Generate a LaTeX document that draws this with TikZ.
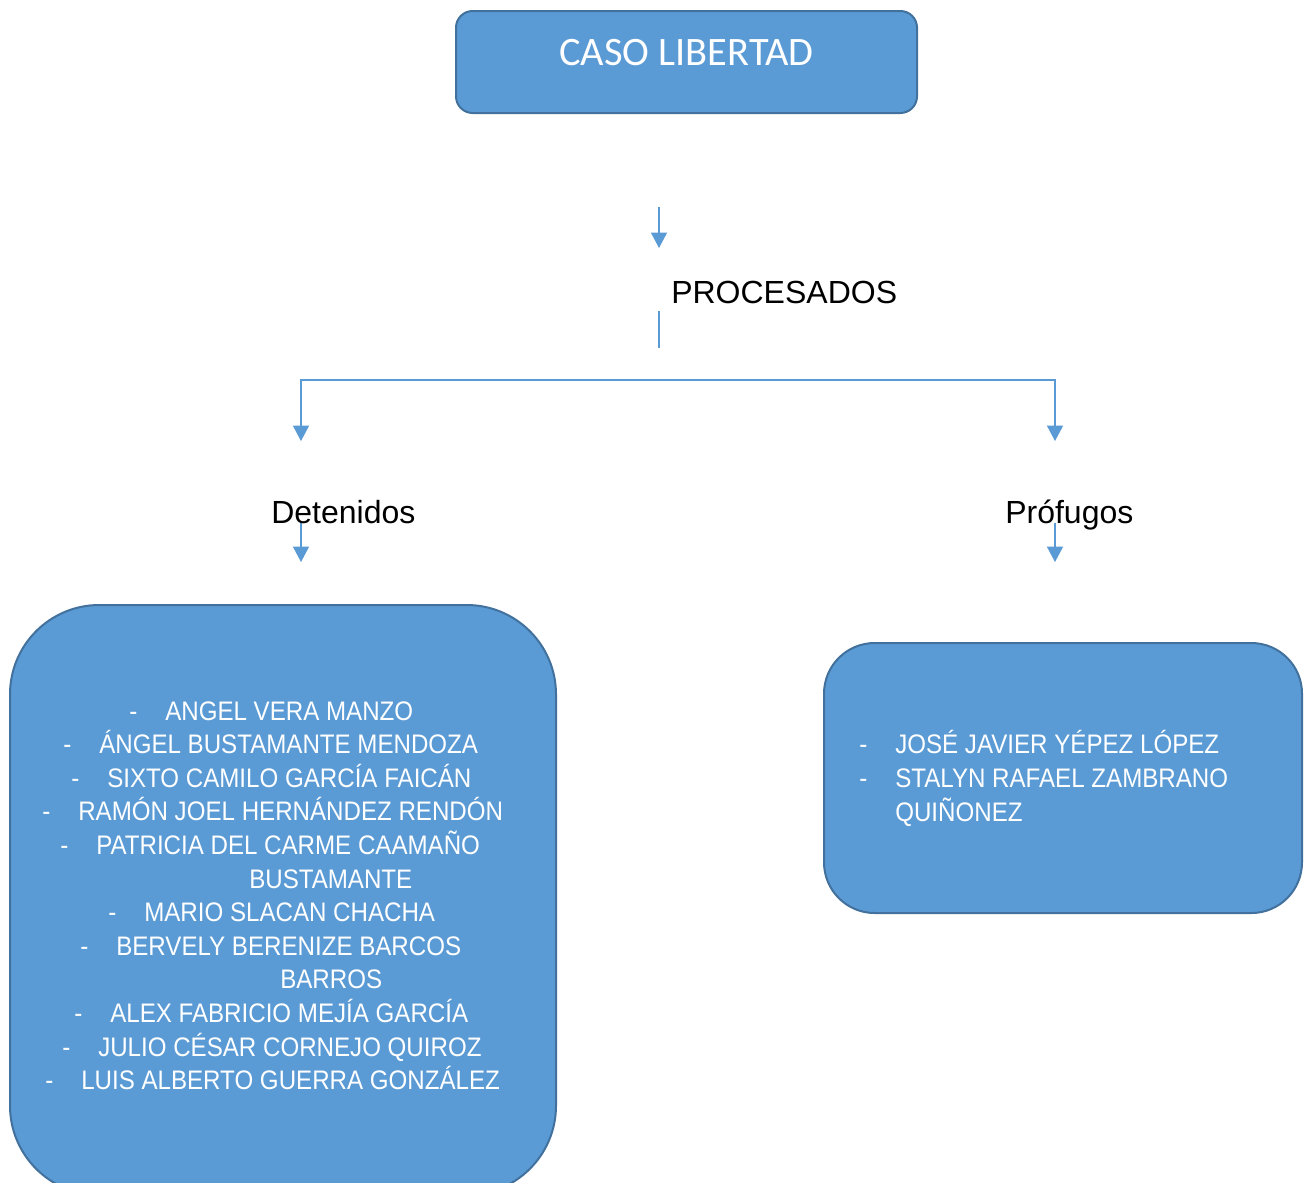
\documentclass[tikz,border=0pt]{standalone}
\usepackage{fontspec}
\setmainfont{Liberation Sans}
\newfontfamily\calfont{Carlito}
\newfontfamily\narrowfont[FakeStretch=0.9]{Liberation Sans}
\usetikzlibrary{arrows.meta}
\definecolor{boxfill}{HTML}{5B9BD5}
\definecolor{boxline}{HTML}{41719C}
\definecolor{connc}{HTML}{5B9BD5}
\begin{document}
\begin{tikzpicture}[x=0.75pt,y=-0.75pt,
  box/.style={fill=boxfill,draw=boxline,line width=1.5pt,inner sep=0pt},
  conn/.style={draw=connc,line width=0.9pt},
  tip/.tip={Triangle[width=12pt,length=11.5pt]},
  arr/.style={conn,-tip},
  lbl/.style={anchor=base west,inner sep=0pt,text=black,font=\fontsize{24}{28}\selectfont},
  item/.style={anchor=base west,inner sep=0pt,text=white,font=\narrowfont\fontsize{20.1}{24}\selectfont},
]
\useasboundingbox (0,0) rectangle (1308,1182);
\fill[white] (0,0) rectangle (1308,1182);

% boxes
\node[box,rounded corners=12.5pt,minimum width=345.75pt,minimum height=76.5pt] (top) at (686.5,62) {};
\node[anchor=base west,inner sep=0pt,text=white,font=\calfont\fontsize{30.3}{34}\selectfont] (toptext) at (559,65) {CASO LIBERTAD};
\node[box,rounded corners=67pt,minimum width=409.5pt,minimum height=442.5pt] (left) at (283,900) {};
\node[box,rounded corners=38pt,minimum width=358.5pt,minimum height=202.5pt] (right) at (1063,778) {};

% connectors
\coordinate (a1s) at (659,207);
\coordinate (a1e) at (659,248);
\draw[arr] (a1s) -- (a1e);
\coordinate (s1) at (659,311);
\coordinate (s2) at (659,348);
\draw[conn] (s1) -- (s2);
\coordinate (hl) at (301,380);
\coordinate (hr) at (1055,380);
\coordinate (dl) at (301,441);
\coordinate (dr) at (1055,441);
\draw[conn,tip-tip] (dl) -- (hl) -- (hr) -- (dr);
\coordinate (dls) at (301,523);
\coordinate (dle) at (301,562);
\coordinate (drs) at (1055,523);
\coordinate (dre) at (1055,562);
\draw[arr] (dls) -- (dle);
\draw[arr] (drs) -- (dre);

% labels
\node[lbl] (proc) at (671,303) {PROCESADOS};
\node[lbl] (det) at (271,523) {Detenidos};
\node[lbl] (prof) at (1005,523) {Prófugos};

% left list
\node[item] (l0d) at (129,720) {-};
\node[item] (l0) at (165,720) {ANGEL VERA MANZO};
\node[item] (l1d) at (63,753.6) {-};
\node[item] (l1) at (99,753.6) {ÁNGEL BUSTAMANTE MENDOZA};
\node[item] (l2d) at (71,787.2) {-};
\node[item] (l2) at (107,787.2) {SIXTO CAMILO GARCÍA FAICÁN};
\node[item] (l3d) at (42,820.8) {-};
\node[item] (l3) at (78,820.8) {RAMÓN JOEL HERNÁNDEZ RENDÓN};
\node[item] (l4d) at (60,854.4) {-};
\node[item] (l4) at (96,854.4) {PATRICIA DEL CARME CAAMAÑO};
\node[item] (l5) at (249,888) {BUSTAMANTE};
\node[item] (l6d) at (108,921.6) {-};
\node[item] (l6) at (144,921.6) {MARIO SLACAN CHACHA};
\node[item] (l7d) at (80,955.2) {-};
\node[item] (l7) at (116,955.2) {BERVELY BERENIZE BARCOS};
\node[item] (l8) at (280,988.8) {BARROS};
\node[item] (l9d) at (74,1022.4) {-};
\node[item] (l9) at (110,1022.4) {ALEX FABRICIO MEJÍA GARCÍA};
\node[item] (l10d) at (62,1056) {-};
\node[item] (l10) at (98,1056) {JULIO CÉSAR CORNEJO QUIROZ};
\node[item] (l11d) at (45,1089.6) {-};
\node[item] (l11) at (81,1089.6) {LUIS ALBERTO GUERRA GONZÁLEZ};

% right list
\node[item] (r0d) at (859,753) {-};
\node[item] (r0) at (895,753) {JOSÉ JAVIER YÉPEZ LÓPEZ};
\node[item] (r1d) at (859,787) {-};
\node[item] (r1) at (895,787) {STALYN RAFAEL ZAMBRANO};
\node[item] (r2) at (895,821) {QUIÑONEZ};
\end{tikzpicture}
\end{document}
